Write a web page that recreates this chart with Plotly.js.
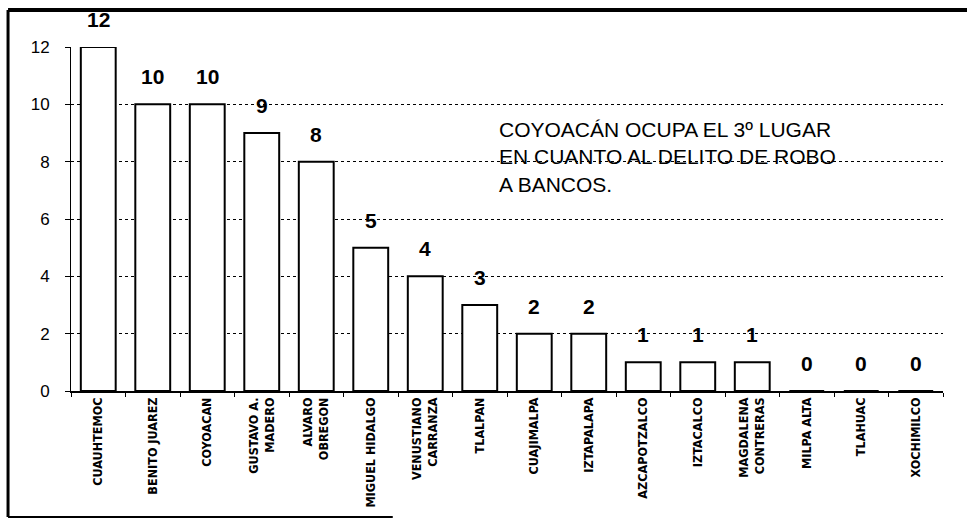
<!DOCTYPE html>
<html><head><meta charset="utf-8">
<script src="https://cdn.plot.ly/plotly-3.0.1.min.js"></script>
<style>body{margin:0;background:#fff}#c{width:967px;height:528px}</style>
</head><body><div id="c"></div>
<script>
var categories = ["CUAUHTEMOC","BENITO JUAREZ","COYOACAN","GUSTAVO A.<br>MADERO","ALVARO<br>OBREGON","MIGUEL HIDALGO","VENUSTIANO<br>CARRANZA","TLALPAN","CUAJIMALPA","IZTAPALAPA","AZCAPOTZALCO","IZTACALCO","MAGDALENA<br>CONTRERAS","MILPA ALTA","TLAHUAC","XOCHIMILCO"];
var values = [12,10,10,9,8,5,4,3,2,2,1,1,1,0,0,0];
var yTicks = [0,2,4,6,8,10,12];
var note = "COYOACÁN OCUPA EL 3º LUGAR<br>EN CUANTO AL DELITO DE ROBO<br>A BANCOS.";

var font = "Arial, 'Liberation Sans', sans-serif";
var narrow = "'Liberation Sans Narrow', 'Arial Narrow', 'DejaVu Sans Condensed', Arial, sans-serif";
var trace = {
  type: "bar", x: categories, y: values,
  marker: {color: "#ffffff", line: {color: "#000000", width: 2}},
  hoverinfo: "none"
};
var labelAnns = categories.map(function (c, i) {
  return {x: c, y: values[i], xref: "x", yref: "y", text: String(values[i]),
    showarrow: false, yanchor: "bottom", yshift: 14,
    font: {family: font, size: 21, color: "#000", weight: "bold"}};
});
var layout = {
  width: 967, height: 528,
  margin: {l: 71, r: 24, t: 47, b: 137},
  paper_bgcolor: "#fff", plot_bgcolor: "#fff",
  showlegend: false, bargap: 0.36,
  font: {family: font, color: "#000"},
  xaxis: {
    type: "category", tickangle: -90, ticks: "outside", tickson: "boundaries",
    ticklen: 4, tickcolor: "#000", showline: true, linecolor: "#000", linewidth: 1.5,
    tickfont: {family: narrow, size: 12.5, color: "#000", weight: "bold"},
    showgrid: false, range: [-0.5, 15.5]
  },
  yaxis: {
    range: [0, 12], tickvals: yTicks, ticktext: yTicks.map(String),
    ticks: "outside", ticklen: 5, tickcolor: "#000", ticklabelstandoff: 12,
    showline: true, linecolor: "#000", linewidth: 1,
    showgrid: true, gridcolor: "#000", griddash: "dot", gridwidth: 1,
    zeroline: false, tickfont: {family: font, size: 17, color: "#000"}
  },
  annotations: labelAnns.concat([{
    xref: "paper", yref: "paper", x: (497-71)/872, y: (391-116)/344,
    xanchor: "left", yanchor: "top", align: "left", showarrow: false,
    text: note, font: {family: font, size: 21, color: "#000"}
  }]),
  shapes: [
    {type: "line", xref: "paper", yref: "paper", x0: -0.0722, x1: 1.03, y0: 1.1076, y1: 1.1076, line: {color: "#000", width: 4}},
    {type: "line", xref: "paper", yref: "paper", x0: -0.0722, x1: -0.0722, y0: 1.1076, y1: -0.366, line: {color: "#000", width: 3}},
    {type: "line", xref: "paper", yref: "paper", x0: -0.0722, x1: 0.369, y0: -0.366, y1: -0.366, line: {color: "#000", width: 2}}
  ]
};
Plotly.newPlot("c", [trace], layout, {displayModeBar: false, staticPlot: true});
</script></body></html>
